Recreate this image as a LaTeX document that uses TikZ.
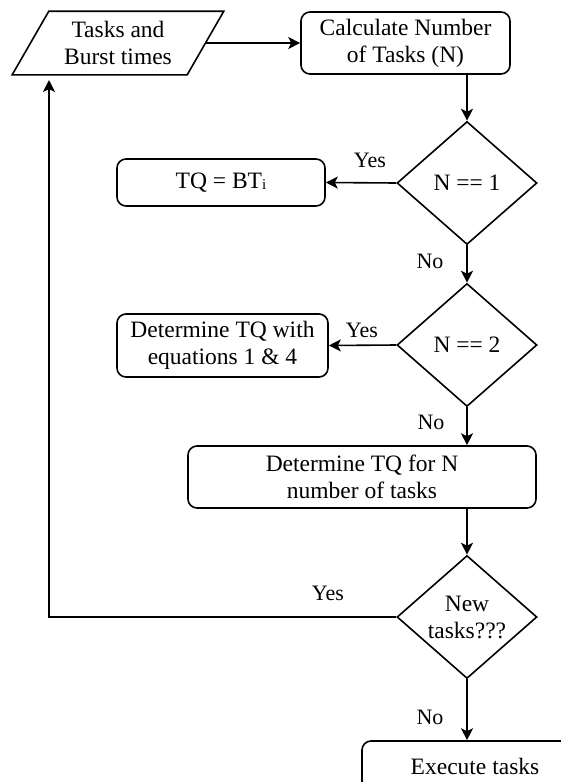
\documentclass[tikz,border=0pt]{standalone}
\usepackage{fontspec}
\setmainfont{Liberation Serif}
\usetikzlibrary{shapes.geometric,arrows.meta}
\begin{document}
\begin{tikzpicture}[x=1pt,y=-1pt,
  line width=1.6pt,
  every node/.style={font=\fontsize{23.5}{27}\selectfont, align=center, inner sep=0pt},
  procbox/.style={draw, rounded corners=9pt, minimum width=#1},
  decision/.style={draw, diamond, minimum width=140pt, minimum height=123pt},
  lbl/.style={font=\fontsize{22}{24}\selectfont},
  arr/.style={-{Stealth[length=12pt,width=12pt,inset=3pt]}}
]
\clip (0,0) rectangle (561,782);

% nodes
\node[minimum width=210pt, minimum height=62pt] (par) at (118,43) {Tasks and\\Burst times};
\draw (par.south west) -- ++(175,0) -- (par.north east) -- ++(-175,0) -- cycle;

\node[procbox=209pt, minimum height=62pt] (calc) at (405.5,43) {Calculate Number\\of Tasks (N)};
\node[decision] (d1) at (467,183) {N == 1};
\node[procbox=208pt, minimum height=47pt] (tq1) at (221,182.5) {TQ = BT\raisebox{-1.5pt}{\fontsize{15}{15}\selectfont i}};
\node[decision] (d2) at (467,345) {N == 2};
\node[procbox=211pt, minimum height=63pt] (tq2) at (222.5,345.5) {Determine TQ with\\equations 1 \& 4};
\node[procbox=348pt, minimum height=62pt] (tqn) at (362,477) {Determine TQ for N\\number of tasks};
\node[decision] (d3) at (467,617) {New\\tasks???};
\node[procbox=226pt, minimum height=58pt] (exec) at (475,770) {\raisebox{8pt}{Execute tasks}};
\coordinate (back) at (49,80);

% connectors
\draw[arr] ([xshift=-17.5pt]par.east) -- (calc.west);
\draw[arr] (d1.north |- calc.south) -- (d1.north);
\draw[arr] (d1.west) -- (tq1.east);
\draw[arr] (d1.south) -- (d2.north);
\draw[arr] (d2.west) -- (tq2.east);
\draw[arr] (d2.south) -- (d2.south |- tqn.north);
\draw[arr] (d3.north |- tqn.south) -- (d3.north);
\draw[arr] (d3.west) -| (back);
\draw[arr] (d3.south) -- (d3.south |- exec.north);

% labels
\node[lbl] (y1) at (370,160) {Yes};
\node[lbl] (n1) at (430,261) {No};
\node[lbl] (y2) at (362,330) {Yes};
\node[lbl] (n2) at (431,422) {No};
\node[lbl] (y3) at (328,593) {Yes};
\node[lbl] (n3) at (430,717) {No};
\end{tikzpicture}
\end{document}
